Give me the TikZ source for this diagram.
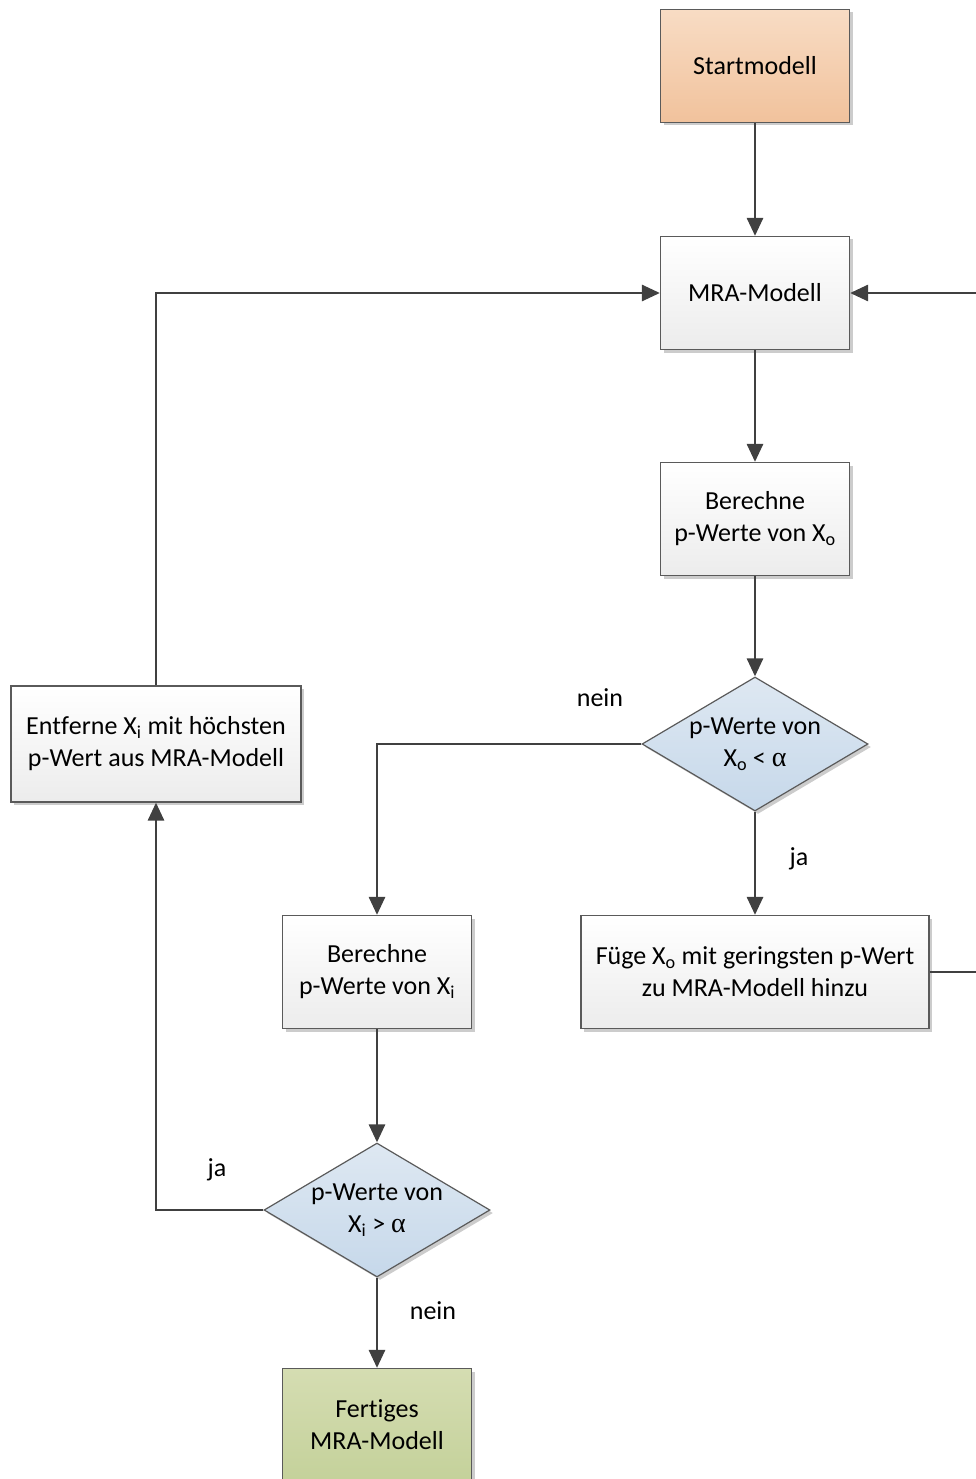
\documentclass[tikz,border=0pt]{standalone}
\usepackage{fontspec}
\setmainfont{Carlito}[Ligatures=NoCommon]
\newfontfamily\grkfont{Liberation Serif}
\usetikzlibrary{shapes.geometric,arrows.meta,shadows}
\definecolor{boxline}{HTML}{5A5A5A}
\definecolor{arrowc}{HTML}{404040}
\definecolor{orangetop}{HTML}{F8DCC4}
\definecolor{orangebot}{HTML}{F1C29C}
\definecolor{bluetop}{HTML}{DEE8F2}
\definecolor{bluebot}{HTML}{C6D8EA}
\definecolor{greentop}{HTML}{D5DDB2}
\definecolor{greenbot}{HTML}{C4D19A}
\definecolor{whitebot}{HTML}{ECECEC}
\newcommand{\alphasym}{{\grkfont\fontsize{28}{32}\selectfont α}}
\begin{document}
\begin{tikzpicture}[x=1pt,y=-1pt,
  font=\fontsize{26}{32}\selectfont,
  shad/.style={drop shadow={shadow xshift=3pt,shadow yshift=-3pt,fill=black!20,opacity=1}},
  box/.style={draw=boxline,line width=1.2pt,minimum height=113pt,minimum width=189pt,
    align=center,inner sep=0pt,top color=white,bottom color=whitebot,shad},
  obox/.style={box,top color=orangetop,bottom color=orangebot},
  gbox/.style={box,top color=greentop,bottom color=greenbot},
  dec/.style={shape=diamond,draw=boxline,line width=1.2pt,minimum width=226pt,minimum height=134pt,
    inner sep=0pt,shape aspect=1.69,top color=bluetop,bottom color=bluebot,shad},
  txt/.style={align=center,inner sep=0pt},
  lab/.style={inner sep=0pt},
  arr/.style={draw=arrowc,line width=2.8pt,-{Triangle[length=18pt,width=16pt]}}
]
\useasboundingbox (0,0) rectangle (976,1479);

\node[obox] (start) at (755,66) {Startmodell};
\node[box] (mra) at (755,293) {MRA-Modell};
\node[box] (bxo) at (755,519) {Berechne\\p-Werte von X\textsubscript{o}};
\node[dec] (d1) at (755,744) {};
\node[txt] (d1t) at (755,744) {p-Werte von\\X\textsubscript{o} < \alphasym};
\node[box,minimum width=348pt] (fuege) at (755,972) {Füge X\textsubscript{o} mit geringsten p-Wert\\zu MRA-Modell hinzu};
\node[box] (bxi) at (377,972) {Berechne\\p-Werte von X\textsubscript{i}};
\node[dec] (d2) at (377,1210) {};
\node[txt] (d2t) at (377,1210) {p-Werte von\\X\textsubscript{i} > \alphasym};
\node[gbox] (fert) at (377,1425) {Fertiges\\MRA-Modell};
\node[box,minimum width=290pt,minimum height=116pt] (entf) at (156,744) {Entf\kern0pt erne X\textsubscript{i} mit höchsten\\p-Wert aus MRA-Modell};

\coordinate (rloop) at (1000,972);

\draw[arr] (start) -- (mra);
\draw[arr] (mra) -- (bxo);
\draw[arr] (bxo) -- (d1);
\draw[arr] (d1.west) -| (bxi);
\draw[arr] (d1) -- (fuege);
\draw[arr] (fuege.east) -- (rloop) |- (mra.east);
\draw[arr] (bxi) -- (d2);
\draw[arr] (d2.west) -| (entf);
\draw[arr] (d2) -- (fert);
\draw[arr] (entf) |- (mra.west);

\node[lab] (l1) at (600,698) {nein};
\node[lab] (l2) at (799,859) {ja};
\node[lab] (l3) at (217,1170) {ja};
\node[lab] (l4) at (433,1311) {nein};
\end{tikzpicture}
\end{document}
